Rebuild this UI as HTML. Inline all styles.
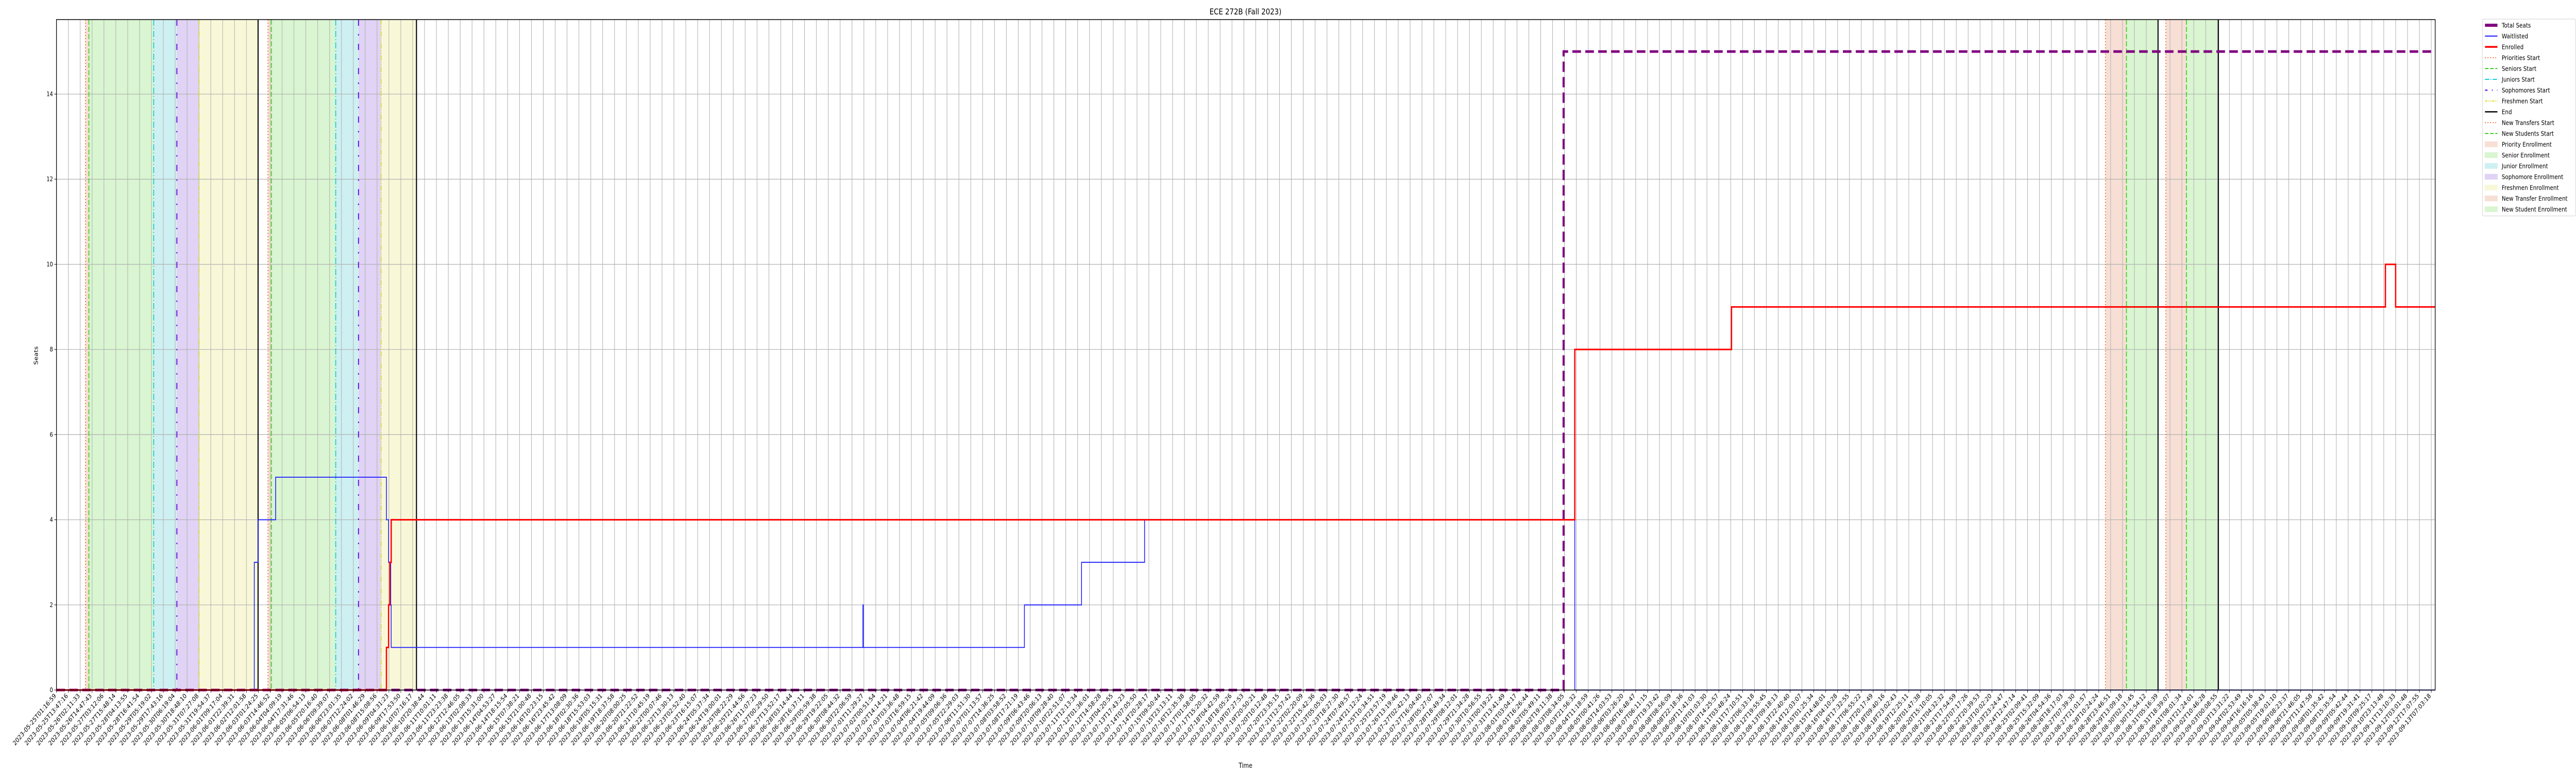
<!DOCTYPE html>
<html><head><meta charset="utf-8"><style>
html,body{margin:0;padding:0;background:#fff;width:100vw;height:100vh;overflow:hidden}
svg{display:block;width:100vw;height:100vh;font-family:"DejaVu Sans","Liberation Sans",sans-serif}
</style></head><body>
<svg id="chart" viewBox="0 0 6000 1500" preserveAspectRatio="none" xmlns="http://www.w3.org/2000/svg" overflow="hidden">
<text x="2901" y="28" font-size="16" text-anchor="middle">ECE 272B (Fall 2023)</text>
<text x="2901" y="1490" font-size="13" text-anchor="middle">Time</text>
<text x="88" y="690" font-size="13" text-anchor="middle" transform="rotate(-90 88 690)">Seats</text>
<g id="bands"></g><g id="grid"></g><g id="events"></g><g id="series"></g><g id="axes"></g><g id="legend"></g>
</svg>
<script>
// ---- data (x in sample-index units, y in seats) ----
const tickCount = 201;
const knownTickLabels = ["2023-05-25T01:16:59","2023-05-25T13:47:16","2023-05-26T02:11:33","2023-05-26T14:47:43","2023-05-27T03:12:06","2023-05-27T15:48:14","2023-05-28T04:13:55","2023-05-28T16:41:54","2023-05-29T05:19:02","2023-05-29T17:43:16","2023-05-30T06:19:04","2023-05-30T18:48:10","2023-05-31T07:27:08","2023-05-31T19:54:37"];
const endTickLabels = ["2023-09-06T21:46:05","2023-09-07T11:47:58","2023-09-08T01:35:42","2023-09-08T15:35:54","2023-09-09T05:42:44","2023-09-09T19:31:41","2023-09-10T09:25:17","2023-09-10T23:13:48","2023-09-11T13:10:33","2023-09-12T03:01:48","2023-09-12T17:07:55","2023-09-13T07:03:18"];
const yTicks = [0,2,4,6,8,10,12,14];
const totalX = [0,126.93,200.33];
const totalY = [0,15,15];
const waitX = [0,16.66,16.98,18.46,27.79,27.97,28.15,28.19,67.92,67.95,81.52,86.33,91.64,127.87,200.33];
const waitY = [0,3,4,5,4,3,2,1,2,1,2,3,4,0,0];
const enrX = [0,27.79,27.97,28.08,28.19,127.87,141.07,196.14,197.0,200.33];
const enrY = [0,1,2,3,4,8,9,10,9,9];
const prioStart = [2.44,17.81];
const seniorStart = [2.73,18.10];
const juniorStart = [8.19,23.52];
const sophStart = [10.14,25.44];
const freshStart = [12.02,27.35];
const endTimes = [16.98,30.32,176.99,182.07];
const transferStart = [172.56,177.64];
const newStudentStart = [174.33,179.38];
const transferEnd = [174.33,179.38];
const newStudentEnd = [176.99,182.07];

// ---- axes ----
const L=131.5,R=5672,T=38,B=1339,XMAX=200.33,YMAX=15.75;
const X=v=>L+v*(R-L)/XMAX;
const Y=v=>B-v*(B-T)/YMAX;
const NS="http://www.w3.org/2000/svg";
function mk(tag,attrs,parent){const e=document.createElementNS(NS,tag);for(const k in attrs)e.setAttribute(k,attrs[k]);parent.appendChild(e);return e;}
const g=id=>document.getElementById(id);

function parseT(s){return Date.parse(s+"Z");}
function fmt(ms){const d=new Date(ms);const p=n=>String(n).padStart(2,"0");return d.getUTCFullYear()+"-"+p(d.getUTCMonth()+1)+"-"+p(d.getUTCDate())+"T"+p(d.getUTCHours())+":"+p(d.getUTCMinutes())+":"+p(d.getUTCSeconds());}
const tickLabels=[];
const a0=knownTickLabels.length-1, b0=tickCount-endTickLabels.length;
const ta=parseT(knownTickLabels[a0]), tb=parseT(endTickLabels[0]);
for(let i=0;i<tickCount;i++){
  if(i<=a0) tickLabels.push(knownTickLabels[i]);
  else if(i>=b0) tickLabels.push(endTickLabels[i-b0]);
  else tickLabels.push(fmt(ta+(tb-ta)*(i-a0)/(b0-a0)));
}

const bands=g("bands");
function band(x0,x1,fill,name){const r=mk("rect",{x:X(x0),y:T,width:X(x1)-X(x0),height:B-T,fill:fill},bands);

}
for(let k=0;k<2;k++){
  band(prioStart[k],seniorStart[k],"#f7dfd5","priority-enrollment-band");
  band(seniorStart[k],juniorStart[k],"#d9f5d1","senior-enrollment-band");
  band(juniorStart[k],sophStart[k],"#cef0f2","junior-enrollment-band");
  band(sophStart[k],freshStart[k],"#e0d3f5","sophomore-enrollment-band");
  band(freshStart[k],endTimes[k],"#f8f8d9","freshmen-enrollment-band");
  band(transferStart[k],transferEnd[k],"#f7dfd5","new-transfer-enrollment-band");
  band(newStudentStart[k],newStudentEnd[k],"#d9f5d1","new-student-enrollment-band");
}

const grid=g("grid"), axes=g("axes");
for(let i=0;i<tickCount;i++){
  const x=X(i);
  const gl=mk("line",{x1:x,x2:x,y1:T,y2:B,stroke:"#b0b0b0","stroke-width":1.2},grid);
  
  
  mk("line",{x1:x,x2:x,y1:B,y2:B+5,stroke:"#000","stroke-width":1},axes);
  const t=mk("text",{x:x,y:B+12,"font-size":12.5,"text-anchor":"end",transform:`rotate(-45 ${x} ${B+12})`},axes);
  
  
  t.textContent=tickLabels[i];
}
for(const v of yTicks){
  const y=Y(v);
  const gl=mk("line",{x1:L,x2:R,y1:y,y2:y,stroke:"#b0b0b0","stroke-width":1.2},grid);
  
  
  mk("line",{x1:L-5,x2:L,y1:y,y2:y,stroke:"#000","stroke-width":1},axes);
  const t=mk("text",{x:L-8,y:y+4,"font-size":12,"text-anchor":"end"},axes);
  
  
  t.textContent=v;
}
const frame=mk("rect",{x:L,y:T,width:R-L,height:B-T,fill:"none",stroke:"#000","stroke-width":1.5},axes);



const ev=g("events");
function vline(v,color,dash,w,name){const l=mk("line",{x1:X(v),x2:X(v),y1:T,y2:B,stroke:color,"stroke-width":w,"stroke-dasharray":dash},ev);

}
prioStart.forEach(v=>vline(v,"#f06a30","2 4",2,"priorities-start-line"));
seniorStart.forEach(v=>vline(v,"#3cd020","10 4",2,"seniors-start-line"));
juniorStart.forEach(v=>vline(v,"#10ccd8","12 4 2 4",2,"juniors-start-line"));
sophStart.forEach(v=>vline(v,"#6a22dd","12 16 3 16",2.5,"sophomores-start-line"));
freshStart.forEach(v=>vline(v,"#dddd30","10 3 2 3 2 3",2,"freshmen-start-line"));
transferStart.forEach(v=>vline(v,"#f06a30","2 4",2,"new-transfers-start-line"));
newStudentStart.forEach(v=>vline(v,"#3cd020","10 4",2,"new-students-start-line"));
endTimes.forEach(v=>vline(v,"#000","",2.5,"end-line"));

const ser=g("series");
function stepPath(xs,ys){let d=`M${X(xs[0])},${Y(ys[0])}`;for(let i=1;i<xs.length;i++){d+=` H${X(xs[i])} V${Y(ys[i])}`;}return d;}
const pt=mk("path",{d:stepPath(totalX,totalY),fill:"none",stroke:"#800080","stroke-width":5,"stroke-dasharray":"20 10"},ser);


const pw=mk("path",{d:stepPath(waitX,waitY),fill:"none",stroke:"#1a1aff","stroke-width":1.8},ser);


const pe=mk("path",{d:stepPath(enrX,enrY),fill:"none",stroke:"#ff0000","stroke-width":3},ser);



const lg=g("legend");
const lb=mk("rect",{x:5782,y:37,width:217,height:382,rx:3,fill:"#fff",stroke:"#d0d0d0","stroke-width":1},lg);


const legendItems=[
 ["Total Seats","line","#800080","",6],["Waitlisted","line","#1a1aff","",2],["Enrolled","line","#ff0000","",3.5],
 ["Priorities Start","line","#f06a30","2 4",2],["Seniors Start","line","#3cd020","8 4",2],["Juniors Start","line","#10ccd8","10 3 2 3",2],
 ["Sophomores Start","line","#6a22dd","6 10 2 10",2.5],["Freshmen Start","line","#dddd30","6 2 2 2 2 2",2],["End","line","#000","",2.5],
 ["New Transfers Start","line","#f06a30","2 4",2],["New Students Start","line","#3cd020","8 4",2],
 ["Priority Enrollment","box","#f7dfd5"],["Senior Enrollment","box","#d9f5d1"],["Junior Enrollment","box","#cef0f2"],
 ["Sophomore Enrollment","box","#e0d3f5"],["Freshmen Enrollment","box","#f8f8d9"],["New Transfer Enrollment","box","#f7dfd5"],["New Student Enrollment","box","#d9f5d1"]];
legendItems.forEach((it,i)=>{
  const y=49+i*21;
  const grp=mk("g",{},lg);
  
  
  if(it[1]==="line") mk("line",{x1:5788,x2:5817,y1:y,y2:y,stroke:it[2],"stroke-width":it[4],"stroke-dasharray":it[3]},grp);
  else mk("rect",{x:5788,y:y-5,width:29,height:10,fill:it[2],stroke:it[2]},grp);
  const t=mk("text",{x:5827,y:y+4.5,"font-size":12.5},grp);
  t.textContent=it[0];
});
</script>
</body></html>
